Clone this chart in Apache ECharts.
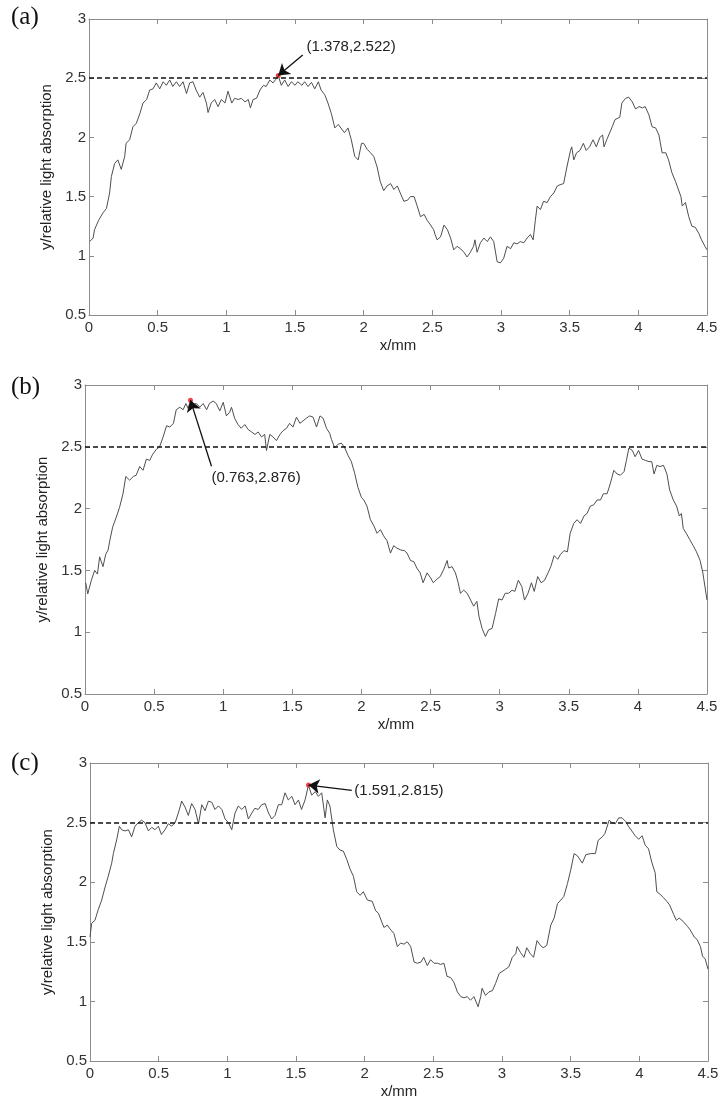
<!DOCTYPE html>
<html><head><meta charset="utf-8">
<script src="https://cdn.jsdelivr.net/npm/echarts@6/dist/echarts.min.js"></script>
<style>html,body{margin:0;padding:0;background:#fff}#c{width:728px;height:1104px}</style>
</head><body><div id="c"></div>
<script>
// ---- data ----
const panelNames = ['(a)', '(b)', '(c)'];
const xTicks = [0, 0.5, 1, 1.5, 2, 2.5, 3, 3.5, 4, 4.5];
const yTicks = [0.5, 1, 1.5, 2, 2.5, 3];
const threshold = 2.5;

const xA = [0.005,0.03,0.04,0.07,0.10,0.127,0.15,0.163,0.187,0.21,0.235,0.26,0.27,0.296,0.32,0.345,0.37,0.393,0.42,0.442,0.466,0.49,0.515,0.54,0.563,0.588,0.61,0.636,0.66,0.685,0.71,0.733,0.757,0.78,0.806,0.83,0.855,0.867,0.89,0.915,0.94,0.964,0.99,1.012,1.04,1.06,1.086,1.11,1.135,1.16,1.175,1.195,1.22,1.245,1.27,1.29,1.316,1.34,1.36,1.378,1.40,1.425,1.45,1.474,1.50,1.52,1.55,1.57,1.595,1.62,1.644,1.67,1.69,1.717,1.74,1.765,1.79,1.815,1.84,1.86,1.886,1.91,1.935,1.96,1.984,2.0,2.025,2.05,2.073,2.098,2.12,2.146,2.17,2.196,2.22,2.245,2.27,2.293,2.32,2.34,2.367,2.39,2.414,2.44,2.462,2.487,2.51,2.52,2.535,2.56,2.585,2.61,2.633,2.656,2.68,2.705,2.73,2.753,2.777,2.80,2.81,2.826,2.85,2.875,2.90,2.923,2.947,2.972,2.996,3.02,3.044,3.07,3.093,3.117,3.14,3.166,3.19,3.214,3.234,3.25,3.263,3.287,3.31,3.336,3.36,3.384,3.41,3.43,3.456,3.48,3.506,3.515,3.53,3.55,3.575,3.60,3.62,3.645,3.67,3.694,3.72,3.74,3.75,3.77,3.81,3.83,3.865,3.88,3.907,3.93,3.956,3.98,4.005,4.03,4.05,4.077,4.10,4.126,4.15,4.173,4.20,4.22,4.245,4.27,4.283,4.31,4.32,4.343,4.367,4.39,4.415,4.44,4.46,4.485,4.5];
const yA = [1.12,1.15,1.22,1.30,1.36,1.40,1.53,1.67,1.78,1.81,1.73,1.84,1.95,1.98,2.09,2.12,2.20,2.29,2.32,2.40,2.41,2.46,2.41,2.47,2.44,2.485,2.43,2.47,2.43,2.47,2.37,2.46,2.47,2.40,2.34,2.38,2.29,2.21,2.29,2.32,2.26,2.32,2.29,2.39,2.29,2.33,2.32,2.33,2.30,2.32,2.25,2.32,2.33,2.40,2.44,2.43,2.485,2.46,2.49,2.522,2.44,2.485,2.43,2.47,2.44,2.47,2.44,2.47,2.43,2.465,2.41,2.47,2.40,2.36,2.29,2.20,2.08,2.11,2.07,2.04,2.08,1.98,1.84,1.81,1.95,1.95,1.90,1.87,1.84,1.75,1.63,1.55,1.59,1.61,1.56,1.59,1.52,1.46,1.47,1.50,1.50,1.42,1.33,1.35,1.30,1.26,1.22,1.18,1.135,1.16,1.26,1.22,1.15,1.05,1.08,1.06,1.03,0.99,1.03,1.08,1.135,1.03,1.11,1.15,1.12,1.16,1.12,0.95,0.94,0.98,1.08,1.06,1.11,1.10,1.12,1.11,1.15,1.18,1.135,1.30,1.42,1.39,1.46,1.45,1.50,1.53,1.59,1.60,1.61,1.75,1.89,1.92,1.81,1.87,1.89,1.95,1.89,1.92,1.98,1.92,2.00,2.02,1.92,1.98,2.09,2.15,2.17,2.29,2.33,2.34,2.30,2.24,2.26,2.25,2.26,2.19,2.09,2.08,2.02,1.87,1.87,1.81,1.70,1.63,1.62,1.50,1.42,1.45,1.33,1.25,1.24,1.19,1.135,1.08,1.05];

const xB = [0.005,0.02,0.046,0.07,0.09,0.106,0.13,0.15,0.167,0.18,0.20,0.226,0.25,0.275,0.295,0.323,0.35,0.37,0.396,0.42,0.444,0.468,0.49,0.517,0.54,0.565,0.59,0.614,0.64,0.66,0.686,0.71,0.73,0.746,0.763,0.78,0.806,0.83,0.855,0.88,0.90,0.927,0.95,0.975,1.0,1.023,1.047,1.06,1.083,1.107,1.13,1.156,1.18,1.205,1.23,1.253,1.277,1.30,1.313,1.337,1.36,1.385,1.41,1.433,1.458,1.48,1.505,1.53,1.555,1.578,1.60,1.626,1.65,1.675,1.70,1.723,1.747,1.77,1.783,1.807,1.83,1.855,1.88,1.903,1.927,1.95,1.975,2.0,2.017,2.04,2.065,2.09,2.113,2.137,2.16,2.185,2.21,2.233,2.257,2.285,2.31,2.33,2.355,2.38,2.40,2.425,2.446,2.475,2.50,2.52,2.547,2.57,2.596,2.62,2.63,2.656,2.68,2.70,2.716,2.74,2.765,2.79,2.812,2.835,2.85,2.873,2.897,2.92,2.945,2.97,2.993,3.017,3.04,3.065,3.09,3.11,3.135,3.16,3.18,3.205,3.23,3.25,3.275,3.30,3.325,3.35,3.37,3.394,3.42,3.44,3.466,3.49,3.51,3.536,3.56,3.585,3.61,3.632,3.656,3.68,3.705,3.73,3.75,3.777,3.80,3.826,3.85,3.874,3.90,3.917,3.935,3.96,3.98,4.005,4.03,4.055,4.08,4.10,4.117,4.137,4.16,4.185,4.21,4.23,4.256,4.28,4.30,4.315,4.328,4.35,4.375,4.40,4.424,4.45,4.47,4.5];
const yB = [1.40,1.31,1.42,1.50,1.47,1.61,1.53,1.63,1.665,1.745,1.85,1.93,2.01,2.12,2.26,2.23,2.26,2.27,2.34,2.31,2.40,2.39,2.44,2.48,2.50,2.58,2.67,2.66,2.69,2.80,2.82,2.80,2.85,2.81,2.876,2.84,2.85,2.82,2.85,2.80,2.85,2.87,2.85,2.79,2.86,2.75,2.78,2.82,2.73,2.68,2.65,2.68,2.64,2.62,2.60,2.62,2.58,2.60,2.47,2.60,2.58,2.55,2.60,2.63,2.65,2.69,2.66,2.74,2.69,2.71,2.73,2.75,2.74,2.66,2.75,2.73,2.65,2.61,2.56,2.49,2.52,2.53,2.49,2.43,2.38,2.29,2.17,2.09,2.07,2.02,1.91,1.86,1.80,1.83,1.78,1.74,1.64,1.70,1.68,1.665,1.66,1.64,1.58,1.57,1.52,1.48,1.40,1.48,1.44,1.40,1.43,1.45,1.51,1.58,1.52,1.53,1.48,1.40,1.315,1.34,1.315,1.26,1.21,1.25,1.13,1.03,0.965,1.02,1.03,1.15,1.27,1.26,1.315,1.315,1.34,1.33,1.42,1.37,1.26,1.315,1.40,1.33,1.45,1.40,1.42,1.48,1.53,1.62,1.59,1.63,1.66,1.65,1.80,1.88,1.91,1.88,1.94,1.96,2.02,2.03,2.07,2.07,2.12,2.12,2.20,2.31,2.28,2.27,2.30,2.39,2.49,2.47,2.42,2.47,2.40,2.39,2.38,2.38,2.28,2.35,2.34,2.35,2.28,2.15,2.07,2.02,1.94,1.96,1.84,1.80,1.75,1.70,1.65,1.58,1.48,1.26];

const xC = [0.0,0.012,0.036,0.06,0.085,0.11,0.133,0.158,0.17,0.194,0.214,0.23,0.255,0.28,0.303,0.328,0.352,0.376,0.40,0.425,0.45,0.473,0.498,0.52,0.546,0.57,0.595,0.62,0.643,0.668,0.692,0.716,0.74,0.765,0.79,0.814,0.838,0.862,0.887,0.91,0.935,0.96,0.984,1.008,1.032,1.056,1.08,1.105,1.13,1.153,1.178,1.20,1.225,1.25,1.275,1.30,1.323,1.347,1.372,1.396,1.42,1.444,1.47,1.493,1.518,1.54,1.566,1.591,1.614,1.64,1.663,1.687,1.712,1.728,1.747,1.772,1.797,1.82,1.845,1.87,1.894,1.918,1.942,1.967,1.99,2.02,2.055,2.08,2.10,2.127,2.14,2.165,2.19,2.213,2.238,2.262,2.286,2.31,2.335,2.36,2.383,2.41,2.43,2.456,2.48,2.505,2.53,2.553,2.577,2.60,2.626,2.65,2.675,2.70,2.723,2.747,2.77,2.796,2.826,2.845,2.855,2.88,2.905,2.93,2.953,2.98,3.0,3.026,3.05,3.075,3.10,3.11,3.135,3.16,3.18,3.206,3.23,3.255,3.28,3.30,3.326,3.355,3.38,3.404,3.428,3.45,3.477,3.50,3.525,3.55,3.585,3.61,3.645,3.68,3.70,3.73,3.75,3.78,3.80,3.825,3.85,3.874,3.90,3.92,3.945,3.97,3.995,4.02,4.043,4.067,4.09,4.115,4.127,4.15,4.176,4.20,4.22,4.25,4.27,4.29,4.32,4.35,4.37,4.40,4.42,4.445,4.46,4.48,4.5];
const yC = [1.54,1.655,1.68,1.77,1.85,1.96,2.05,2.16,2.24,2.355,2.47,2.44,2.43,2.44,2.38,2.47,2.50,2.52,2.50,2.43,2.46,2.44,2.47,2.40,2.44,2.49,2.47,2.50,2.58,2.68,2.63,2.56,2.66,2.61,2.49,2.65,2.60,2.68,2.67,2.61,2.64,2.61,2.53,2.50,2.44,2.58,2.64,2.61,2.64,2.53,2.58,2.62,2.61,2.65,2.66,2.58,2.53,2.56,2.65,2.65,2.75,2.69,2.72,2.65,2.69,2.61,2.69,2.815,2.73,2.76,2.72,2.75,2.54,2.69,2.64,2.44,2.30,2.27,2.26,2.19,2.11,2.05,1.92,1.89,1.92,1.85,1.84,1.76,1.74,1.66,1.62,1.64,1.60,1.57,1.46,1.49,1.48,1.50,1.46,1.33,1.32,1.33,1.37,1.30,1.35,1.32,1.32,1.31,1.32,1.21,1.20,1.16,1.08,1.04,1.03,1.04,1.01,1.04,0.955,1.04,1.11,1.05,1.08,1.09,1.15,1.235,1.25,1.27,1.29,1.37,1.40,1.46,1.41,1.37,1.45,1.40,1.37,1.51,1.47,1.45,1.47,1.64,1.70,1.82,1.85,1.88,1.99,2.10,2.24,2.22,2.16,2.23,2.24,2.24,2.35,2.38,2.41,2.52,2.50,2.49,2.54,2.54,2.51,2.47,2.43,2.39,2.36,2.39,2.31,2.28,2.17,2.08,1.92,1.90,1.87,1.84,1.81,1.73,1.68,1.70,1.67,1.63,1.60,1.54,1.52,1.46,1.38,1.355,1.27];

const peaksX = [1.378, 0.763, 1.591];
const peaksY = [2.522, 2.876, 2.815];
const peakLabels = ['(1.378,2.522)', '(0.763,2.876)', '(1.591,2.815)'];
// arrow tail / label anchor in data units
const tailX = [1.556, 0.915, 1.906];
const tailY = [2.696, 2.343, 2.77];
const textX = [1.583, 0.915, 1.925];
const textY = [2.764, 2.252, 2.77];

const xs = [xA, xB, xC];
const ys = [yA, yB, yC];

// ---- layout ----
const grids = [
  {left: 89, right: 21, top: 19, height: 296},
  {left: 85, right: 21, top: 385, height: 309},
  {left: 90, right: 20, top: 763, height: 298}
];
const panelLabelTop = [5, 375, 751];

const axisColor = '#8c8c8c';
const textColor = '#333';
const font = 'Liberation Sans, Arial, sans-serif';

const xAxes = [], yAxes = [], series = [], graphics = [];
grids.forEach((g, i) => {
  const base = {
    type: 'value', gridIndex: i, min: 0, max: 4.5, interval: 0.5,
    axisLine: {show: true, onZero: false, lineStyle: {color: axisColor, width: 1}},
    axisTick: {show: true, inside: true, length: 5, lineStyle: {color: axisColor}},
    splitLine: {show: false}
  };
  xAxes.push(Object.assign({}, base, {
    position: 'bottom',
    axisLabel: {color: textColor, fontSize: 15, fontFamily: font, margin: 5},
    name: 'x/mm', nameLocation: 'middle', nameGap: 23,
    nameTextStyle: {color: '#222', fontSize: 15, fontFamily: font}
  }));
  xAxes.push(Object.assign({}, base, {position: 'top', axisLabel: {show: false}}));
  const ybase = {
    type: 'value', gridIndex: i, min: 0.5, max: 3, interval: 0.5,
    axisLine: {show: true, onZero: false, lineStyle: {color: axisColor, width: 1}},
    axisTick: {show: true, inside: true, length: 5, lineStyle: {color: axisColor}},
    splitLine: {show: false}
  };
  yAxes.push(Object.assign({}, ybase, {
    position: 'left',
    axisLabel: {color: textColor, fontSize: 15, fontFamily: font, margin: 3},
    name: 'y/relative light absorption', nameLocation: 'middle', nameGap: 25,
    nameTextStyle: {color: '#222', fontSize: 15, fontFamily: font}
  }));
  yAxes.push(Object.assign({}, ybase, {position: 'right', axisLabel: {show: false}}));

  const data = xs[i].map((x, k) => [x, ys[i][k]]);
  series.push({
    type: 'line', xAxisIndex: 2 * i, yAxisIndex: 2 * i, data: data,
    showSymbol: false, symbol: 'none', animation: false,
    lineStyle: {color: '#4f4f4f', width: 1},
    markLine: {
      silent: true, symbol: 'none', animation: false,
      label: {show: false},
      lineStyle: {color: '#111', type: [5, 3], width: 1.6},
      data: [{yAxis: threshold}]
    }
  });
  series.push({
    type: 'scatter', xAxisIndex: 2 * i, yAxisIndex: 2 * i,
    data: [[peaksX[i], peaksY[i]]], symbolSize: 5, animation: false,
    itemStyle: {color: '#e8161b'}, z: 3,
    markLine: {
      silent: true, animation: false, symbol: ['none', 'arrow'], symbolSize: 11,
      label: {show: false}, z: 6,
      itemStyle: {color: '#111'},
      lineStyle: {color: '#111', type: 'solid', width: 1.3},
      data: [[{coord: [tailX[i], tailY[i]]}, {coord: [peaksX[i], peaksY[i]]}]]
    },
    markPoint: {
      silent: true, animation: false, symbol: 'circle', symbolSize: 0,
      label: {show: true, position: 'right', distance: 0, formatter: peakLabels[i],
        color: '#222', fontSize: 15, fontFamily: font},
      data: [{coord: [textX[i], textY[i]]}]
    }
  });
  graphics.push({
    type: 'text', left: 11, top: panelLabelTop[i],
    style: {text: panelNames[i], font: '25px "Liberation Serif", "DejaVu Serif", serif', fill: '#111'}
  });
});

const chart = echarts.init(document.getElementById('c'), null, {renderer: 'canvas'});
chart.setOption({
  backgroundColor: '#fff',
  animation: false,
  grid: grids,
  xAxis: xAxes,
  yAxis: yAxes,
  series: series,
  graphic: graphics
});
</script></body></html>
